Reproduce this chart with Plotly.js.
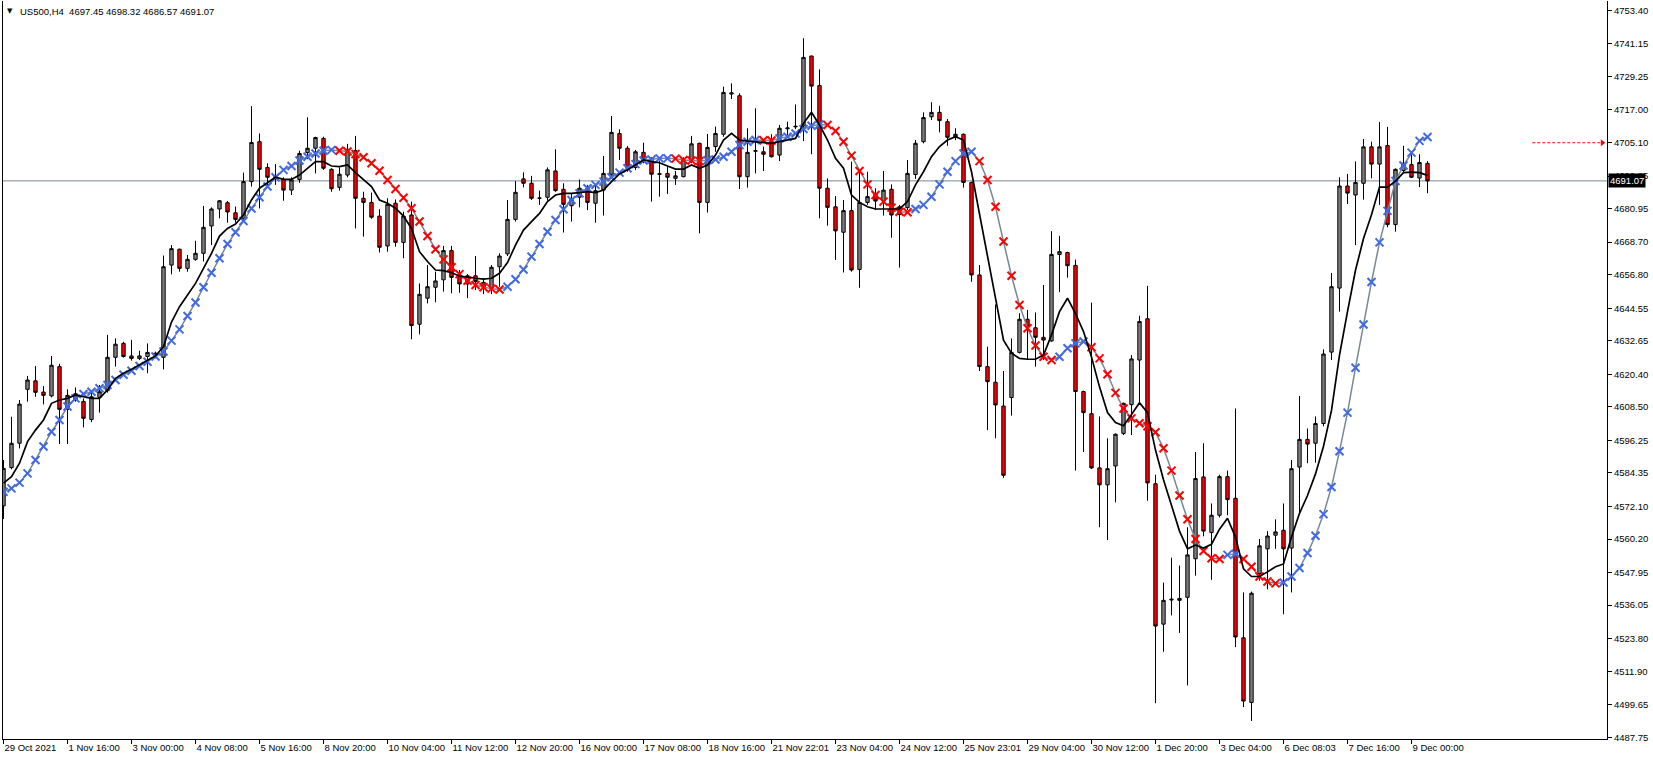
<!DOCTYPE html>
<html><head><meta charset="utf-8">
<script src="https://cdn.plot.ly/plotly-3.0.1.min.js"></script>
<style>html,body{margin:0;padding:0;background:#fff;overflow:hidden}#chart{width:1653px;height:760px}</style>
</head><body><div id="chart"></div>
<script>
const headerText = 'US500,H4\u00a0\u00a04697.45 4698.32 4686.57 4691.07';
const lastPrice = 4691.07;

const openP = [
4572.3,4586.3,4595.2,4614.9,4618.0,4613.9,4612.5,4623.2,4607.6,4613.3,
4610.5,4603.9,4612.0,4614.4,4626.6,4631.7,4627.1,4626.2,4626.9,4628.1,
4626.6,4660.3,4666.1,4659.1,4662.4,4664.6,4674.6,4680.8,4683.1,4679.4,
4677.4,4690.8,4705.4,4696.0,4693.1,4691.6,4687.7,4691.6,4701.4,4703.0,
4706.6,4695.3,4688.7,4693.2,4702.1,4684.7,4683.2,4678.2,4667.3,4682.9,
4668.6,4678.6,4638.7,4648.2,4652.2,4654.9,4665.6,4656.1,4653.4,4656.4,
4654.0,4651.8,4659.7,4664.4,4677.0,4691.8,4690.2,4684.7,4685.1,4694.7,
4688.0,4682.0,4685.1,4688.4,4682.9,4687.7,4693.5,4708.4,4703.0,4696.0,
4701.5,4699.3,4693.7,4693.8,4692.0,4692.6,4698.7,4704.8,4683.2,4703.6,
4708.1,4722.8,4722.2,4692.6,4701.9,4701.7,4705.2,4700.5,4710.1,4710.8,
4711.2,4736.7,4725.9,4688.4,4681.6,4672.3,4680.2,4658.7,4683.2,4686.2,
4683.7,4688.0,4678.8,4681.3,4693.4,4705.4,4714.5,4716.1,4712.7,4707.0,
4708.1,4690.5,4656.7,4623.2,4617.5,4608.8,4611.9,4628.4,4640.5,4637.4,
4633.9,4632.6,4664.2,4664.9,4660.2,4614.1,4606.0,4586.2,4580.0,4586.9,
4598.8,4609.3,4625.6,4640.7,4580.4,4529.1,4537.9,4537.8,4538.9,4553.0,
4582.9,4562.6,4568.9,4583.0,4575.1,4524.1,4500.5,4547.6,4556.6,4561.6,
4563.4,4556.9,4586.5,4596.6,4595.2,4602.4,4628.5,4651.9,4689.2,4685.9,
4690.2,4703.5,4697.2,4704.0,4675.1,4694.9,4697.0,4692.1,4697.45];

const highP = [
4589.1,4604.9,4611.0,4619.8,4623.4,4616.1,4627.1,4624.2,4614.9,4615.6,
4611.6,4614.0,4616.5,4634.8,4633.5,4632.3,4633.0,4629.0,4631.7,4628.7,
4663.8,4667.6,4666.3,4664.0,4669.2,4681.9,4681.4,4684.1,4683.7,4681.7,
4694.1,4718.4,4708.4,4697.5,4697.2,4692.4,4692.4,4702.1,4714.3,4707.2,
4707.2,4695.7,4696.0,4704.6,4707.5,4687.1,4686.8,4680.7,4684.7,4684.3,
4679.8,4683.5,4653.6,4660.3,4657.9,4667.3,4667.3,4658.5,4657.0,4663.6,
4655.5,4660.3,4664.6,4684.1,4691.0,4694.2,4692.9,4687.5,4696.0,4702.6,
4690.2,4686.3,4691.6,4689.6,4689.6,4700.2,4714.8,4709.9,4703.8,4702.4,
4705.0,4699.7,4698.5,4696.5,4694.7,4699.7,4707.5,4705.0,4708.2,4710.9,
4725.5,4726.7,4723.1,4710.3,4717.6,4703.6,4708.1,4711.5,4712.7,4719.0,
4743.2,4736.8,4731.8,4692.0,4685.5,4684.1,4698.1,4694.4,4694.4,4688.4,
4694.7,4689.8,4682.3,4698.7,4706.0,4716.1,4719.8,4718.5,4713.7,4710.3,
4708.4,4690.8,4660.3,4630.5,4645.9,4621.6,4633.5,4642.7,4643.9,4643.0,
4653.0,4672.7,4671.0,4665.2,4662.3,4614.4,4646.6,4605.0,4597.0,4598.8,
4610.0,4627.4,4641.8,4652.7,4583.7,4544.3,4553.4,4550.5,4564.5,4592.0,
4595.2,4573.2,4583.7,4585.2,4607.9,4540.7,4541.0,4560.2,4563.1,4567.4,
4573.2,4589.1,4612.5,4600.6,4605.0,4629.5,4657.4,4692.4,4693.6,4698.2,
4706.4,4705.4,4712.6,4710.8,4695.6,4703.9,4701.1,4700.8,4698.32];

const lowP = [
4567.5,4585.7,4593.3,4610.4,4612.2,4609.4,4612.0,4594.9,4594.9,4610.4,
4601.0,4602.9,4606.4,4613.7,4623.2,4626.5,4625.4,4625.6,4620.8,4626.2,
4622.2,4656.9,4657.9,4657.9,4661.9,4661.6,4667.6,4677.4,4675.8,4675.8,
4676.8,4689.0,4681.0,4689.0,4689.6,4683.8,4685.9,4690.4,4699.0,4693.8,
4695.1,4687.1,4687.5,4692.4,4673.7,4670.7,4677.2,4664.9,4665.2,4667.0,
4662.8,4633.2,4635.0,4646.3,4646.7,4650.6,4650.0,4650.2,4648.2,4651.2,
4649.7,4649.7,4652.4,4663.6,4676.2,4688.7,4684.1,4682.3,4683.8,4687.1,
4672.2,4676.2,4681.4,4680.4,4675.8,4678.4,4692.9,4698.7,4694.4,4695.1,
4697.5,4683.5,4685.3,4686.3,4689.6,4692.4,4697.5,4671.9,4679.5,4701.7,
4707.2,4721.0,4688.1,4688.6,4693.8,4694.7,4699.6,4698.3,4707.8,4710.0,
4705.6,4700.8,4677.4,4674.7,4662.2,4657.6,4657.9,4652.0,4682.3,4680.4,
4678.4,4670.3,4659.4,4680.4,4691.8,4704.8,4713.3,4708.8,4703.9,4706.0,
4688.6,4654.2,4621.6,4600.0,4597.0,4582.5,4605.3,4628.0,4625.6,4623.2,
4625.6,4632.3,4650.4,4655.7,4585.2,4592.0,4585.8,4564.5,4559.8,4573.6,
4598.2,4598.2,4609.3,4574.2,4500.2,4519.0,4532.3,4525.9,4506.7,4546.8,
4561.2,4545.3,4568.1,4568.9,4520.7,4498.8,4493.7,4545.0,4541.8,4556.6,
4532.7,4540.7,4569.9,4587.9,4588.1,4601.4,4625.6,4643.3,4682.6,4667.6,
4684.2,4692.0,4682.3,4674.1,4672.5,4694.1,4692.1,4688.8,4686.57];

const closeP = [
4586.0,4595.2,4609.5,4618.3,4613.8,4612.7,4623.7,4607.6,4612.7,4611.0,
4604.3,4612.2,4614.0,4626.6,4631.4,4626.9,4626.2,4627.1,4628.4,4627.1,
4659.7,4666.3,4659.1,4662.4,4664.6,4674.1,4680.8,4683.8,4679.7,4677.0,
4690.8,4705.1,4695.3,4692.4,4691.9,4687.7,4691.4,4701.1,4703.0,4706.9,
4695.7,4688.2,4693.5,4702.6,4684.7,4683.2,4677.8,4666.8,4682.5,4668.6,
4678.2,4638.2,4649.6,4652.4,4654.5,4665.6,4655.8,4653.4,4656.4,4654.3,
4652.2,4659.5,4663.6,4677.0,4686.9,4690.2,4684.7,4684.8,4695.1,4687.5,
4682.5,4684.3,4688.4,4683.2,4687.5,4693.8,4708.8,4703.0,4695.7,4701.7,
4698.7,4693.5,4693.5,4692.4,4692.9,4698.7,4704.6,4683.2,4703.3,4708.4,
4723.4,4723.2,4692.6,4701.5,4702.1,4700.8,4699.9,4710.3,4710.4,4711.0,
4736.2,4725.7,4688.4,4681.4,4672.8,4680.2,4658.5,4683.2,4685.3,4683.7,
4687.7,4678.6,4681.6,4693.8,4704.8,4714.2,4716.1,4713.1,4707.0,4708.1,
4690.5,4656.7,4623.2,4617.7,4609.2,4583.5,4628.4,4640.5,4637.8,4633.9,
4632.9,4664.2,4665.2,4660.1,4614.1,4606.4,4586.2,4580.0,4585.9,4598.5,
4609.8,4626.0,4639.7,4580.7,4528.4,4537.8,4538.2,4538.5,4554.4,4582.3,
4563.1,4568.9,4583.0,4574.6,4524.4,4501.0,4540.4,4557.7,4561.3,4562.8,
4556.6,4585.9,4596.6,4594.9,4602.4,4627.8,4652.4,4689.2,4686.6,4690.5,
4703.5,4697.2,4703.5,4675.1,4695.3,4697.5,4692.4,4697.8,4691.07];

// fast average (black line)
const fastLine = [
4580.6,4583.0,4587.9,4595.8,4600.0,4603.7,4609.8,4611.0,4611.6,4612.8,
4612.2,4611.6,4611.6,4614.7,4618.9,4620.8,4622.2,4623.8,4625.4,4627.1,
4630.5,4639.5,4645.1,4649.4,4653.6,4659.1,4664.6,4670.9,4673.7,4675.3,
4678.6,4684.1,4688.4,4690.4,4692.4,4691.6,4691.6,4693.2,4695.6,4698.1,
4698.1,4696.5,4696.3,4696.9,4694.1,4691.4,4689.0,4684.1,4682.9,4681.1,
4678.2,4673.7,4665.2,4661.6,4658.5,4658.3,4657.5,4656.3,4655.8,4655.5,
4655.2,4655.5,4657.3,4661.2,4667.6,4673.1,4676.2,4679.2,4683.5,4685.9,
4686.5,4686.5,4686.8,4687.1,4686.8,4687.7,4690.8,4693.6,4695.1,4696.9,
4698.7,4698.1,4697.7,4696.5,4695.4,4695.4,4696.9,4695.7,4696.9,4700.5,
4706.0,4708.4,4706.0,4705.6,4705.4,4705.1,4704.8,4705.4,4706.0,4706.6,
4712.1,4716.1,4711.5,4706.0,4699.3,4695.7,4685.9,4683.2,4681.6,4680.8,
4680.8,4680.8,4680.8,4683.5,4689.6,4694.4,4699.9,4703.6,4706.0,4707.2,
4706.0,4694.4,4678.6,4662.8,4648.2,4632.9,4628.1,4626.2,4625.9,4625.9,
4627.4,4634.8,4643.3,4648.2,4642.6,4636.0,4626.7,4615.8,4606.4,4602.8,
4601.6,4605.7,4610.0,4606.4,4592.7,4581.9,4572.5,4563.1,4556.6,4558.0,
4556.9,4558.3,4563.8,4567.8,4560.9,4549.3,4546.5,4546.5,4548.2,4550.1,
4551.1,4560.9,4569.6,4576.1,4584.0,4594.1,4607.2,4627.4,4643.3,4658.4,
4670.0,4678.7,4688.8,4688.8,4691.0,4694.1,4694.3,4694.1,4693.1];

// slow average (grey line with crosses)
const slowLine = [
4577.5,4578.7,4580.8,4584.2,4589.1,4594.0,4599.4,4603.7,4608.6,4611.6,
4613.2,4614.0,4615.3,4616.5,4618.3,4620.2,4621.7,4623.4,4625.0,4626.9,
4628.7,4632.7,4636.8,4641.7,4646.6,4652.2,4657.5,4662.8,4668.0,4672.3,
4676.4,4681.0,4685.1,4689.0,4692.4,4695.1,4696.5,4698.5,4699.9,4701.1,
4702.1,4702.4,4702.1,4701.8,4700.9,4699.7,4697.5,4694.8,4691.4,4688.1,
4684.9,4681.1,4676.2,4670.9,4666.1,4662.4,4659.5,4657.0,4654.6,4653.0,
4652.2,4651.7,4651.4,4652.4,4655.1,4658.7,4663.4,4668.0,4672.5,4676.8,
4680.7,4684.1,4686.5,4688.4,4689.6,4690.8,4692.4,4694.1,4695.7,4697.2,
4698.5,4698.9,4699.3,4699.3,4699.2,4698.7,4698.5,4698.3,4698.6,4698.9,
4699.9,4701.7,4704.2,4705.4,4706.0,4705.9,4705.8,4706.6,4707.2,4708.4,
4710.0,4711.2,4711.7,4711.5,4709.3,4705.4,4700.3,4694.7,4689.8,4685.9,
4683.5,4681.3,4679.8,4679.6,4680.8,4682.3,4685.3,4689.8,4694.4,4698.3,
4701.1,4701.7,4698.3,4691.4,4681.6,4668.9,4656.4,4645.7,4637.2,4630.9,
4626.8,4625.6,4626.8,4629.9,4631.7,4632.4,4630.3,4626.2,4620.4,4613.6,
4607.9,4604.3,4602.5,4601.4,4599.2,4593.4,4585.2,4576.1,4567.4,4560.2,
4555.8,4553.2,4552.9,4554.4,4554.8,4552.9,4550.1,4546.5,4544.7,4544.0,
4544.3,4546.5,4549.6,4555.1,4561.4,4569.3,4579.2,4592.3,4606.4,4622.8,
4638.6,4654.1,4668.6,4680.1,4691.0,4696.7,4701.4,4705.7,4707.1];

// colour of the crosses, as runs of bars [direction, first bar, last bar]
const crossRuns = [
['up',0,41],['down',42,62],['up',63,83],['down',84,87],['up',88,94],
['down',95,96],['up',97,102],['down',103,113],['up',114,121],['down',122,131],
['up',132,135],['down',136,152],['up',153,154],['down',155,159],['up',160,178]];

const timeLabels = ['29 Oct 2021','1 Nov 16:00','3 Nov 00:00','4 Nov 08:00','5 Nov 16:00',
'8 Nov 20:00','10 Nov 04:00','11 Nov 12:00','12 Nov 20:00','16 Nov 00:00','17 Nov 08:00',
'18 Nov 16:00','21 Nov 22:01','23 Nov 04:00','24 Nov 12:00','25 Nov 23:01','29 Nov 04:00',
'30 Nov 12:00','1 Dec 20:00','3 Dec 04:00','6 Dec 08:03','7 Dec 16:00','9 Dec 00:00'];
const labelEvery = 8;

const priceTicks = [4753.40,4741.15,4729.25,4717.00,4705.10,4692.85,4680.95,4668.70,4656.80,
4644.55,4632.65,4620.40,4608.50,4596.25,4584.35,4572.10,4560.20,4547.95,4536.05,4523.80,
4511.90,4499.65,4487.75];

const arrowLevel = 4705.0;
const arrowFromBar = 191.1;
const arrowToBar = 199.6;

const bars = openP.map((_, i) => i);
const crossColors = new Array(bars.length).fill('#4169E1');
crossRuns.forEach(([d, a, b]) => { for (let i = a; i <= b; i++) crossColors[i] = d === 'up' ? '#4169E1' : '#FF0000'; });

const traces = [
  {type:'candlestick', x:bars, open:openP, high:highP, low:lowP, close:closeP,
   increasing:{line:{color:'#000000', width:1}, fillcolor:'#808080'},
   decreasing:{line:{color:'#000000', width:1}, fillcolor:'#FF0000'},
   whiskerwidth:0, hoverinfo:'none'},
  {type:'scatter', mode:'lines', x:bars, y:slowLine, line:{color:'#778899', width:1.5}, hoverinfo:'none'},
  {type:'scatter', mode:'markers', x:bars, y:slowLine,
   marker:{symbol:'x-thin', size:8, color:crossColors, line:{color:crossColors, width:2}}, hoverinfo:'none'},
  {type:'scatter', mode:'lines', x:bars, y:fastLine, line:{color:'#000000', width:1.7}, hoverinfo:'none'},
  {type:'scatter', mode:'markers', x:[arrowToBar + 0.25], y:[arrowLevel],
   marker:{symbol:'triangle-right', size:6, color:'#FF0000'}, hoverinfo:'none', cliponaxis:false}
];

const layout = {
  width:1653, height:760,
  margin:{l:3, r:46, t:1, b:21, pad:0},
  paper_bgcolor:'#ffffff', plot_bgcolor:'#ffffff',
  showlegend:false, hovermode:false, dragmode:false,
  boxgap:0.4,
  font:{family:'Liberation Sans, Arial, sans-serif', size:9.5, color:'#000000'},
  xaxis:{range:[-0.0625, 200.4375], showgrid:false, zeroline:false,
    showline:true, linecolor:'#000000', linewidth:1,
    ticks:'outside', ticklen:4, tickcolor:'#000000', tickwidth:1,
    tickvals:timeLabels.map((_, k) => k * labelEvery), ticktext:timeLabels,
    ticklabelposition:'outside right', tickangle:0, automargin:false,
    rangeslider:{visible:false}, fixedrange:true},
  yaxis:{side:'right', range:[4487.13, 4756.8], showgrid:false, zeroline:false,
    showline:true, mirror:true, linecolor:'#000000', linewidth:1,
    ticks:'outside', ticklen:4, tickcolor:'#000000', tickwidth:1, automargin:false,
    tickvals:priceTicks, ticktext:priceTicks.map(v => v.toFixed(2)), fixedrange:true},
  shapes:[
    {type:'line', xref:'paper', x0:0, x1:1, yref:'y', y0:lastPrice, y1:lastPrice,
     line:{color:'#778899', width:1}, layer:'below'},
    {type:'line', xref:'x', x0:arrowFromBar, x1:arrowToBar, yref:'y', y0:arrowLevel, y1:arrowLevel,
     line:{color:'#FF0000', width:1, dash:'3px,2px'}}
  ],
  annotations:[
    {xref:'paper', yref:'paper', x:0, y:1, xanchor:'left', yanchor:'middle', xshift:2, yshift:-10,
     text:'\u25BC', showarrow:false, font:{size:7, color:'#000000', family:'DejaVu Sans'}},
    {xref:'paper', yref:'paper', x:0, y:1, xanchor:'left', yanchor:'middle', xshift:15, yshift:-10,
     text:headerText, showarrow:false, font:{size:9.5, color:'#000000'}},
    {xref:'paper', yref:'y', x:1, y:lastPrice, xanchor:'left', yanchor:'middle', xshift:1,
     text:lastPrice.toFixed(2), showarrow:false, bgcolor:'#000000', borderpad:1,
     font:{size:9.5, color:'#ffffff'}}
  ]
};

Plotly.newPlot('chart', traces, layout, {displayModeBar:false, staticPlot:true});
</script>
</body></html>
